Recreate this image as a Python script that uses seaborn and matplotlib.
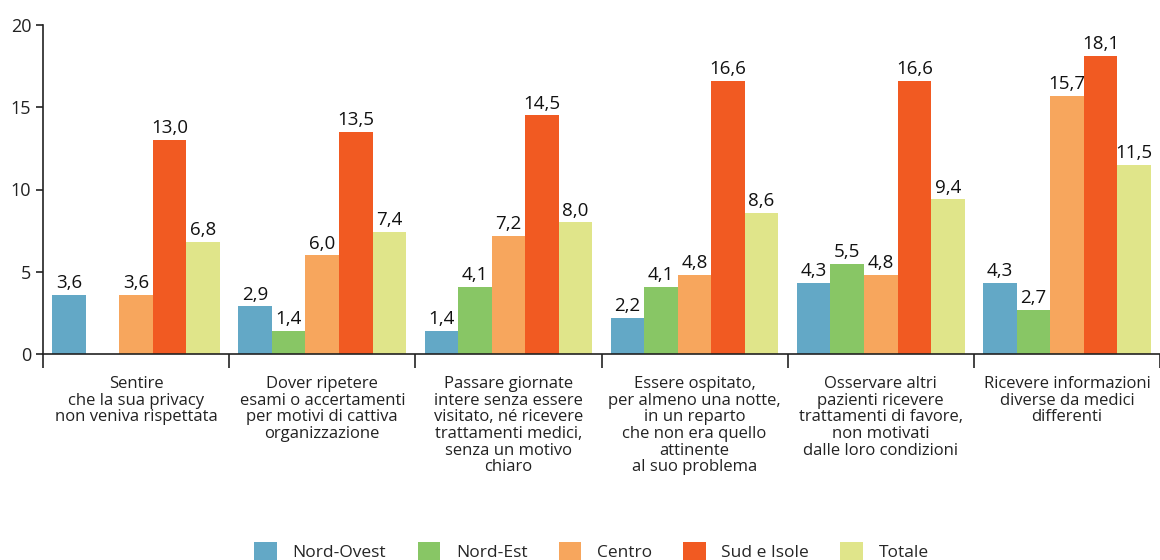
import pandas as pd
import numpy as np
import matplotlib
matplotlib.use("Agg")
import matplotlib.pyplot as plt
import seaborn as sns

# data
categories = [
    "Sentire\nche la sua privacy\nnon veniva rispettata",
    "Dover ripetere\nesami o accertamenti\nper motivi di cattiva\norganizzazione",
    "Passare giornate\nintere senza essere\nvisitato, né ricevere\ntrattamenti medici,\nsenza un motivo\nchiaro",
    "Essere ospitato,\nper almeno una notte,\nin un reparto\nche non era quello\nattinente\nal suo problema",
    "Osservare altri\npazienti ricevere\ntrattamenti di favore,\nnon motivati\ndalle loro condizioni",
    "Ricevere informazioni\ndiverse da medici\ndifferenti",
]
series = ["Nord-Ovest", "Nord-Est", "Centro", "Sud e Isole", "Totale"]
nord_ovest = [3.6, 2.9, 1.4, 2.2, 4.3, 4.3]
nord_est = [np.nan, 1.4, 4.1, 4.1, 5.5, 2.7]
centro = [3.6, 6.0, 7.2, 4.8, 4.8, 15.7]
sud_isole = [13.0, 13.5, 14.5, 16.6, 16.6, 18.1]
totale = [6.8, 7.4, 8.0, 8.6, 9.4, 11.5]
colors = ["#63A8C6", "#88C665", "#F7A65D", "#F15A22", "#E0E58A"]

rows = []
for s, vals in zip(series, [nord_ovest, nord_est, centro, sud_isole, totale]):
    for c, v in zip(categories, vals):
        rows.append({"cat": c, "serie": s, "val": v})
df = pd.DataFrame(rows)
df["val"] = df["val"].fillna(0)  # missing value: no bar drawn

sns.set_style("white")
plt.rcParams["font.family"] = ["Open Sans", "DejaVu Sans"]

fig = plt.figure(figsize=(11.6, 5.6), dpi=100)
ax = fig.add_axes([43 / 1160, 1 - 354 / 560, 1 - 43 / 1160, (354 - 25) / 560])

sns.barplot(data=df, x="cat", y="val", hue="serie", order=categories,
            hue_order=series, palette=colors, width=0.9, gap=0,
            saturation=1, linewidth=0, ax=ax, legend=True)

for cont, vals in zip(ax.containers, [nord_ovest, nord_est, centro, sud_isole, totale]):
    labels = ["" if np.isnan(v) else f"{v:.1f}".replace(".", ",") for v in vals]
    ax.bar_label(cont, labels=labels, padding=2, fontsize=13.5, color="#111111")

ax.set_ylim(0, 20)
ax.set_yticks([0, 5, 10, 15, 20])
ax.set_xlim(-0.5, len(categories) - 0.5)
ax.set_xlabel("")
ax.set_ylabel("")
sns.despine(ax=ax)
for sp in ["left", "bottom"]:
    ax.spines[sp].set_color("#222222")
    ax.spines[sp].set_linewidth(1.2)

ax.tick_params(axis="y", direction="out", length=5, width=1.2, labelsize=13,
               colors="#222222", left=True)
ax.set_xticks(range(len(categories)))
ax.set_xticklabels(categories, fontsize=12, linespacing=1.05, va="top")
ax.tick_params(axis="x", which="major", length=0, pad=16, labelcolor="#222222")
ax.set_xticks(np.arange(-0.5, len(categories), 1.0), minor=True)
ax.tick_params(axis="x", which="minor", direction="out", length=10, width=1.2,
               color="#222222", bottom=True)

handles, labs = ax.get_legend_handles_labels()
ax.get_legend().remove()
fig.legend(handles, labs, loc="lower center", bbox_to_anchor=(0.51, -0.03),
           ncol=5, frameon=False, fontsize=12.5, handlelength=1.3,
           handleheight=1.3, columnspacing=1.8, handletextpad=0.9)

fig.savefig("out.png", dpi=100)
